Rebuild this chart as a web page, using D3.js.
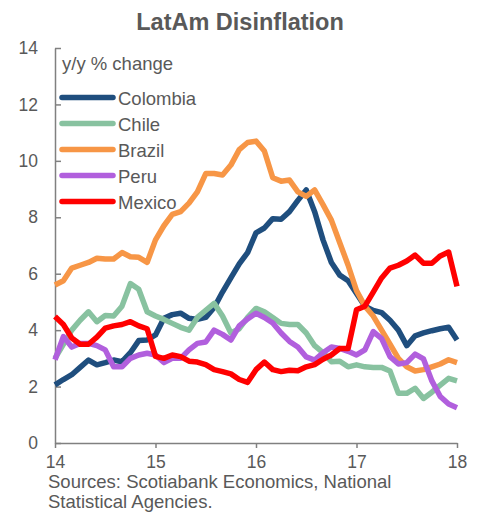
<!DOCTYPE html>
<meta charset="utf-8">
<title>LatAm Disinflation</title>
<style>
  body { margin: 0; background: #fff; }
  text { font-family: "Liberation Sans", Arial, sans-serif; fill: #595959; }
</style>
<div id="viz"></div>
<script src="https://cdnjs.cloudflare.com/ajax/libs/d3/7.8.5/d3.min.js"></script>
<script>

// monthly, Jan 2014 .. Jan 2018
var colombia = [2.06, 2.25, 2.42, 2.68, 2.94, 2.77, 2.85, 2.94, 2.88, 3.2, 3.63, 3.65,
  3.83, 4.42, 4.55, 4.6, 4.42, 4.38, 4.45, 4.8, 5.35, 5.85, 6.35, 6.75,
  7.45, 7.62, 7.95, 7.93, 8.2, 8.6, 8.97, 8.2, 7.2, 6.4, 5.95, 5.75,
  5.3, 4.85, 4.7, 4.62, 4.35, 4.0, 3.45, 3.8, 3.9, 3.98, 4.05, 4.1, 3.65];
var chile = [3.0, 3.5, 4.0, 4.35, 4.65, 4.3, 4.52, 4.5, 4.85, 5.65, 5.45, 4.65,
  4.5, 4.38, 4.24, 4.1, 4.0, 4.45, 4.7, 4.95, 4.5, 3.9, 4.05, 4.45,
  4.77, 4.65, 4.45, 4.24, 4.2, 4.2, 3.9, 3.45, 3.2, 2.88, 2.9, 2.7,
  2.77, 2.7, 2.68, 2.68, 2.55, 1.76, 1.76, 1.94, 1.58, 1.8, 2.05, 2.29, 2.2];
var brazil = [5.6, 5.75, 6.2, 6.3, 6.4, 6.55, 6.52, 6.52, 6.75, 6.6, 6.58, 6.4,
  7.2, 7.7, 8.1, 8.2, 8.5, 8.9, 9.55, 9.55, 9.5, 9.85, 10.4, 10.65,
  10.7, 10.35, 9.4, 9.28, 9.32, 8.9, 8.74, 8.97, 8.45, 7.9, 7.1, 6.3,
  5.4, 4.85, 4.5, 4.0, 3.5, 3.0, 2.7, 2.55, 2.6, 2.7, 2.8, 2.95, 2.85];
var peru = [2.95, 3.77, 3.4, 3.53, 3.53, 3.45, 3.3, 2.7, 2.7, 3.0, 3.12, 3.18,
  3.12, 2.85, 3.0, 3.0, 3.3, 3.53, 3.58, 4.0, 3.85, 3.65, 4.15, 4.4,
  4.6, 4.45, 4.25, 3.9, 3.6, 3.4, 3.05, 2.94, 3.2, 3.4, 3.35, 3.25,
  3.12, 3.3, 3.95, 3.7, 3.06, 2.8, 2.85, 3.15, 2.98, 2.2, 1.65, 1.38, 1.25];
var mexico = [4.48, 4.2, 3.72, 3.5, 3.5, 3.75, 4.07, 4.15, 4.2, 4.3, 4.15, 4.05,
  3.07, 3.0, 3.12, 3.06, 2.9, 2.87, 2.78, 2.6, 2.53, 2.45, 2.25, 2.15,
  2.6, 2.87, 2.6, 2.53, 2.58, 2.56, 2.7, 2.78, 2.97, 3.12, 3.35, 3.35,
  4.72, 4.85, 5.35, 5.85, 6.2, 6.3, 6.45, 6.66, 6.37, 6.37, 6.63, 6.77, 5.55];

var names = ["Colombia", "Chile", "Brazil", "Peru", "Mexico"];
var colors = ["#1f4e7e", "#88c2a0", "#f79646", "#b15fdd", "#ff0000"];
var seriesList = [colombia, chile, brazil, peru, mexico];
var yTicks = [0, 2, 4, 6, 8, 10, 12, 14];
var xTicks = [14, 15, 16, 17, 18];

var width = 477;
var height = 512;

var svg = d3.select("#viz")
  .append("svg")
  .attr("width", width)
  .attr("height", height);

var x = d3.scaleLinear().domain([14, 18]).range([55, 457]);
var y = d3.scaleLinear().domain([0, 14]).range([443, 48]);

svg.append("text")
  .attr("x", 240)
  .attr("y", 30)
  .attr("text-anchor", "middle")
  .style("font-size", "23.5px")
  .style("font-weight", "bold")
  .text("LatAm Disinflation");

// axes
var yAxis = d3.axisLeft(y)
  .tickValues(yTicks)
  .tickSizeInner(-6)
  .tickSizeOuter(0)
  .tickPadding(17);

var xAxis = d3.axisBottom(x)
  .tickValues(xTicks)
  .tickFormat(d3.format("d"))
  .tickSizeInner(5)
  .tickSizeOuter(0)
  .tickPadding(8);

var gy = svg.append("g")
  .attr("transform", "translate(" + x(14) + ",0)")
  .call(yAxis);

var gx = svg.append("g")
  .attr("transform", "translate(0," + y(0) + ")")
  .call(xAxis);

[gx, gy].forEach(function(g) {
  g.select(".domain").attr("stroke", "#808080").attr("stroke-width", 1.5);
  g.selectAll(".tick line").attr("stroke", "#808080").attr("stroke-width", 1.5);
  g.selectAll(".tick text")
    .style("font-size", "17.5px")
    .style("font-family", "'Liberation Sans', Arial, sans-serif")
    .attr("fill", "#595959");
});

// lines
var line = d3.line()
  .x(function(d, i) { return x(14 + i / 12); })
  .y(function(d) { return y(d); });

seriesList.forEach(function(s, k) {
  svg.append("path")
    .datum(s)
    .attr("fill", "none")
    .attr("stroke", colors[k])
    .attr("stroke-width", 5.5)
    .attr("stroke-linejoin", "round")
    .attr("d", line);
});

// legend
svg.append("text")
  .attr("x", 62)
  .attr("y", 70)
  .style("font-size", "18.5px")
  .text("y/y % change");

var legend = svg.append("g");
names.forEach(function(n, k) {
  var ly = 97.5 + k * 26;
  legend.append("line")
    .attr("x1", 62).attr("x2", 113)
    .attr("y1", ly).attr("y2", ly)
    .attr("stroke", colors[k])
    .attr("stroke-width", 5.5)
    .attr("stroke-linecap", "round");
  legend.append("text")
    .attr("x", 118)
    .attr("y", ly + 7)
    .style("font-size", "18.5px")
    .text(n);
});

// source note
svg.append("text")
  .attr("x", 48)
  .attr("y", 488)
  .style("font-size", "18.5px")
  .text("Sources: Scotiabank Economics, National");
svg.append("text")
  .attr("x", 48)
  .attr("y", 508)
  .style("font-size", "18.5px")
  .text("Statistical Agencies.");

</script>
